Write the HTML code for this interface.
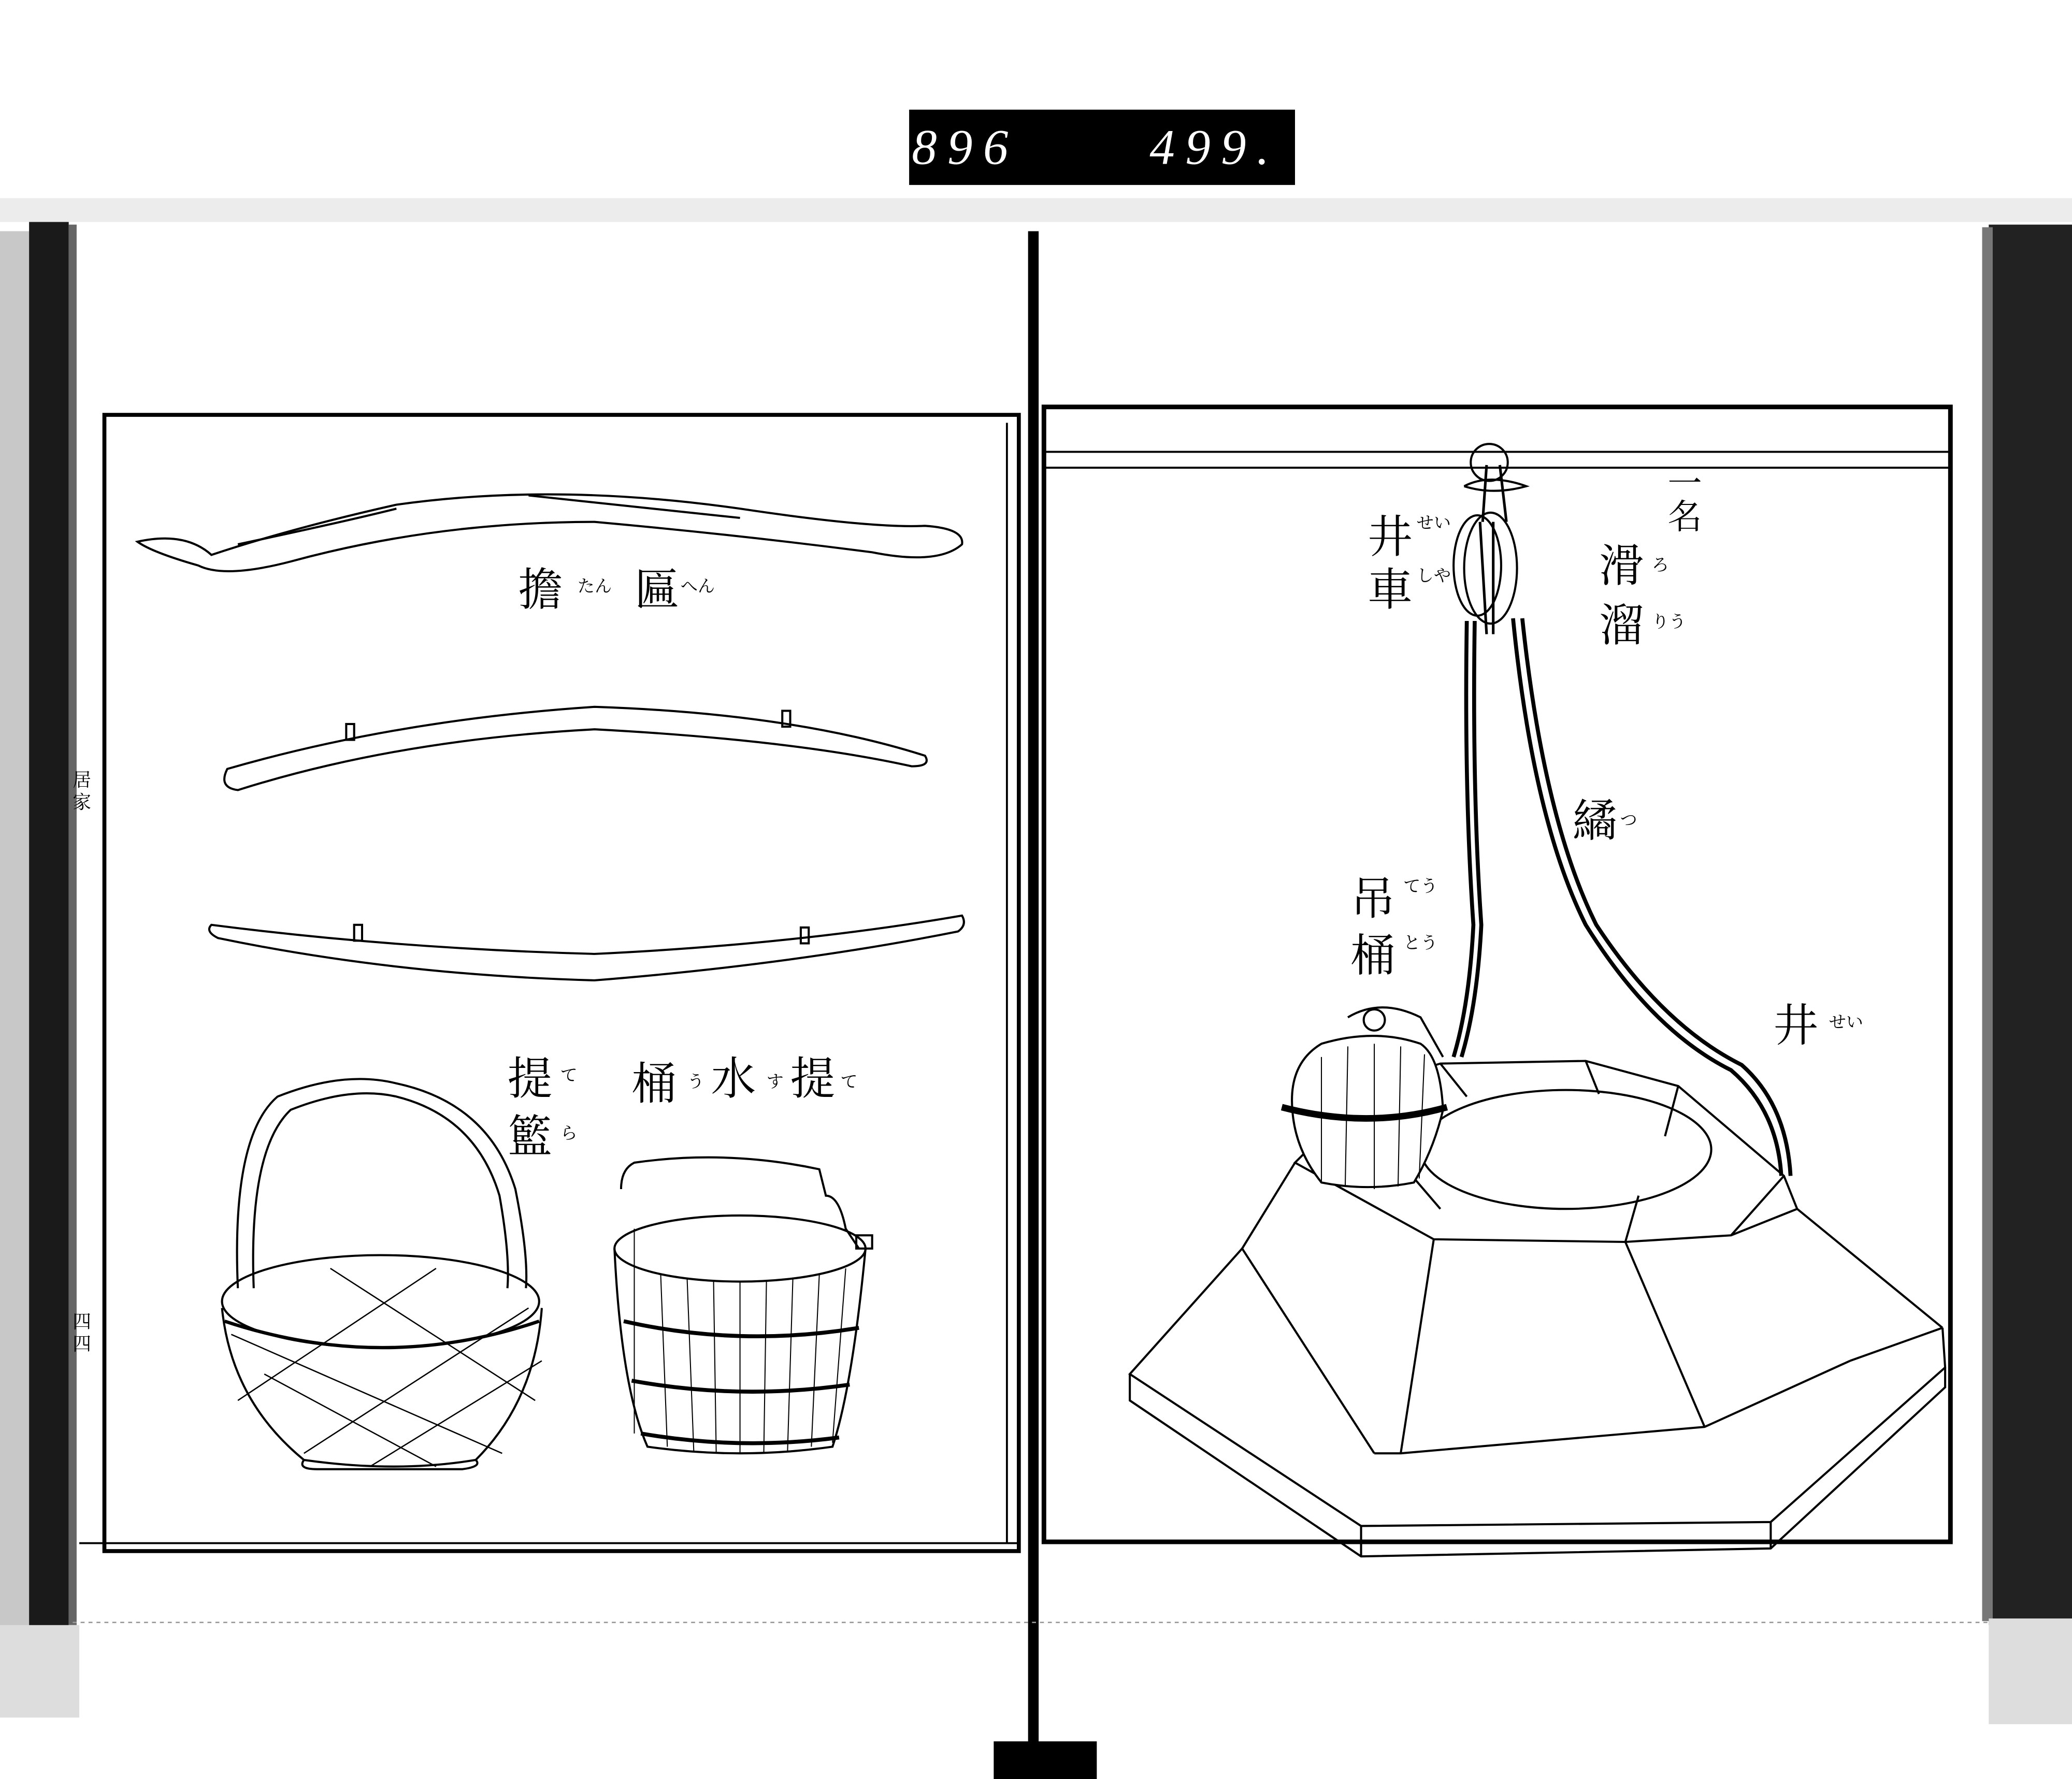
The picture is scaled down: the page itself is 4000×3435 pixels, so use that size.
<!DOCTYPE html>
<html><head><meta charset="utf-8"><style>
html,body{margin:0;padding:0;background:#fff;}
svg{display:block;}
text{font-family:"Liberation Serif","Noto Serif CJK SC","Noto Sans CJK JP",serif;fill:#000;}
</style></head><body>
<svg width="4000" height="3435" viewBox="0 0 1568 1346.5" preserveAspectRatio="none" xmlns="http://www.w3.org/2000/svg">
<rect width="1568" height="1347" fill="#fff"/>
<rect x="0" y="150" width="1568" height="18" fill="#ececec"/>
<rect x="688" y="83" width="292" height="57" fill="#000"/>
<text x="690" y="124" font-family="Liberation Mono" font-size="38" font-style="italic" style="fill:#fff;letter-spacing:8px">896</text>
<text x="870" y="124" font-family="Liberation Mono" font-size="38" font-style="italic" style="fill:#fff;letter-spacing:8px">499.</text>
<rect x="0" y="175" width="22" height="1060" fill="#c8c8c8"/>
<rect x="22" y="168" width="30" height="1065" fill="#1a1a1a"/>
<rect x="52" y="170" width="6" height="1060" fill="#666"/>
<rect x="1505" y="170" width="63" height="1060" fill="#222"/>
<rect x="1500" y="172" width="8" height="1055" fill="#777"/>
<rect x="0" y="1230" width="60" height="70" fill="#ddd"/>
<rect x="1505" y="1225" width="63" height="80" fill="#ddd"/>
<rect x="778" y="175" width="8" height="1145" fill="#000"/>
<rect x="752" y="1318" width="78" height="29" fill="#000"/>
<line x1="55" y1="1228" x2="1505" y2="1228" stroke="#999" stroke-width="1" stroke-dasharray="3 3"/>
<rect x="79" y="314" width="692" height="860" fill="none" stroke="#000" stroke-width="3"/>
<line x1="762" y1="320" x2="762" y2="1168" stroke="#000" stroke-width="1.5"/>
<line x1="60" y1="1168" x2="771" y2="1168" stroke="#000" stroke-width="1.5"/>
<rect x="790" y="308" width="686" height="859" fill="none" stroke="#000" stroke-width="3.5"/>
<line x1="790" y1="342" x2="1476" y2="342" stroke="#000" stroke-width="1.5"/>
<line x1="790" y1="354" x2="1476" y2="354" stroke="#000" stroke-width="1.5"/>

<g fill="none" stroke="#000" stroke-width="1.6">
<path d="M104 410 Q140 402 160 420 Q220 400 300 382 Q420 365 560 385 Q660 400 700 398 Q730 400 728 412 Q710 428 660 418 Q560 405 450 395 Q330 395 220 425 Q170 438 150 428 Q115 418 104 410 Z"/>
<path d="M180 412 Q260 395 300 385 M400 375 L560 392"/>
<path d="M172 582 Q300 545 450 535 Q600 540 700 572 Q705 580 690 580 Q600 560 450 552 Q300 560 180 598 Q165 596 172 582 Z"/>
<rect x="262" y="548" width="6" height="12"/><rect x="592" y="538" width="6" height="12"/>
<path d="M160 700 Q300 718 450 722 Q600 715 728 693 Q732 700 725 705 Q600 730 450 742 Q300 738 165 710 Q155 705 160 700 Z"/>
<rect x="268" y="700" width="6" height="12"/><rect x="606" y="702" width="6" height="12"/>
<path d="M180 975 Q175 860 210 830 Q260 810 300 820 Q370 835 390 900 Q400 950 398 975"/>
<path d="M192 975 Q188 870 220 840 Q265 822 300 830 Q360 845 378 905 Q386 950 384 975"/>
<ellipse cx="288" cy="985" rx="120" ry="35"/>
<path d="M168 990 Q175 1060 230 1105 Q300 1115 360 1105 Q405 1060 410 990"/>
<path d="M230 1105 Q225 1112 240 1112 L350 1112 Q365 1110 360 1105"/>
<path d="M175 1010 L380 1100 M200 1040 L330 1110 M250 960 L405 1060 M180 1060 L330 960 M230 1100 L400 990 M280 1110 L410 1030" stroke-width="1"/>
<path d="M170 1000 Q290 1040 408 1000" stroke-width="2.5"/>
<path d="M470 900 Q470 885 480 880 Q550 870 620 885 L625 905 Q635 905 640 930 L650 945"/>
<ellipse cx="560" cy="945" rx="95" ry="25"/>
<path d="M465 945 Q470 1050 490 1095 Q560 1105 630 1095 Q645 1050 655 945"/>
<path d="M472 1000 Q560 1020 650 1005 M478 1045 Q560 1060 643 1048 M485 1085 Q560 1098 635 1088" stroke-width="3"/>
<path d="M480 930 L480 1085 M500 965 L505 1095 M520 968 L525 1098 M540 970 L542 1100 M560 970 L560 1100 M580 970 L578 1100 M600 968 L596 1098 M620 965 L614 1095 M640 960 L630 1092" stroke-width="0.8"/>
<rect x="648" y="935" width="12" height="10"/>
<ellipse cx="1127" cy="350" rx="14" ry="14"/>
<path d="M1108 368 Q1127 358 1155 368 Q1130 375 1108 368"/>
<path d="M1125 352 L1122 395 M1135 352 L1140 395" stroke-width="2"/>
<ellipse cx="1118" cy="428" rx="18" ry="38"/>
<ellipse cx="1128" cy="430" rx="20" ry="42"/>
<path d="M1120 395 L1125 480 M1130 395 L1130 480" stroke-width="2"/>
<path d="M1110 470 Q1108 600 1115 700 Q1112 760 1100 800" stroke-width="3"/>
<path d="M1116 470 Q1114 600 1121 700 Q1118 760 1106 800" stroke-width="3"/>
<path d="M1145 468 Q1160 620 1200 700 Q1250 780 1310 810 Q1345 840 1348 890" stroke-width="3"/>
<path d="M1152 468 Q1168 620 1208 700 Q1258 776 1318 806 Q1352 836 1355 890" stroke-width="3"/>
<!-- well -->
<path d="M1040 820 L1090 805 L1200 803 L1270 822 L1350 890 L1360 915 L1310 935 L1230 940 L1085 938 L980 880 Z"/>
<path d="M1040 820 L1060 880 L1090 915 M1090 805 L1110 830 M1200 803 L1210 828 M1270 822 L1260 860 M1350 890 L1310 935 M1230 940 L1240 905"/>
<ellipse cx="1185" cy="870" rx="110" ry="45"/>
<path d="M980 880 L940 945 M1470 1005 L1360 915"/>
<path d="M1085 938 L1060 1100 M1230 940 L1290 1080 M940 945 L1040 1100 M1470 1005 L1400 1030"/>
<path d="M940 945 L855 1040 L1030 1155 L1340 1152 L1472 1035 L1470 1005"/>
<path d="M855 1040 L855 1060 L1030 1178 L1340 1172 L1472 1050 L1472 1035"/>
<path d="M1030 1155 L1030 1178 M1340 1152 L1340 1172"/>
<path d="M1040 1100 L1060 1100 L1290 1080 L1400 1030"/>
<path d="M978 840 Q975 805 1000 790 Q1040 778 1075 790 Q1090 800 1092 840 Q1085 870 1070 895 Q1035 902 1000 895 Q980 870 978 840 Z" fill="#fff"/>
<path d="M1000 800 L1000 895 M1020 792 L1018 898 M1040 790 L1040 900 M1060 792 L1058 898 M1078 798 L1074 892" stroke-width="0.8"/>
<path d="M970 838 Q1035 855 1095 838" stroke-width="5"/>
<path d="M1020 770 Q1045 755 1075 770 L1092 800" />
<circle cx="1040" cy="772" r="8"/>
</g>

<g font-size="34">
<text x="392" y="458">擔</text><text x="480" y="458">匾</text>
<text x="384" y="828">提</text><text x="384" y="872">籃</text>
<text x="478" y="832">桶</text><text x="538" y="828">水</text><text x="598" y="828">提</text>
<text x="1035" y="418">井</text><text x="1035" y="458">車</text>
<text x="1210" y="440">滑</text><text x="1210" y="485">溜</text>
<text x="1022" y="692">吊</text><text x="1022" y="735">桶</text>
<text x="1190" y="633">繘</text>
<text x="1342" y="788">井</text>
</g>
<g font-size="26"><text x="1262" y="375">一</text><text x="1262" y="400">名</text></g>
<g font-size="13">
<text x="437" y="448">たん</text><text x="515" y="448">へん</text>
<text x="424" y="818">て</text><text x="424" y="862">ら</text>
<text x="520" y="823">う</text><text x="580" y="823">す</text><text x="636" y="823">て</text>
<text x="1072" y="400">せい</text><text x="1072" y="440">しや</text>
<text x="1250" y="432">ろ</text><text x="1250" y="475">りう</text>
<text x="1062" y="675">てう</text><text x="1062" y="718">とう</text>
<text x="1226" y="625">つ</text><text x="1384" y="778">せい</text>
</g>
<g font-size="14"><text x="55" y="595">居</text><text x="55" y="612">家</text><text x="55" y="1005">四</text><text x="55" y="1022">四</text></g>
</svg>
</body></html>
